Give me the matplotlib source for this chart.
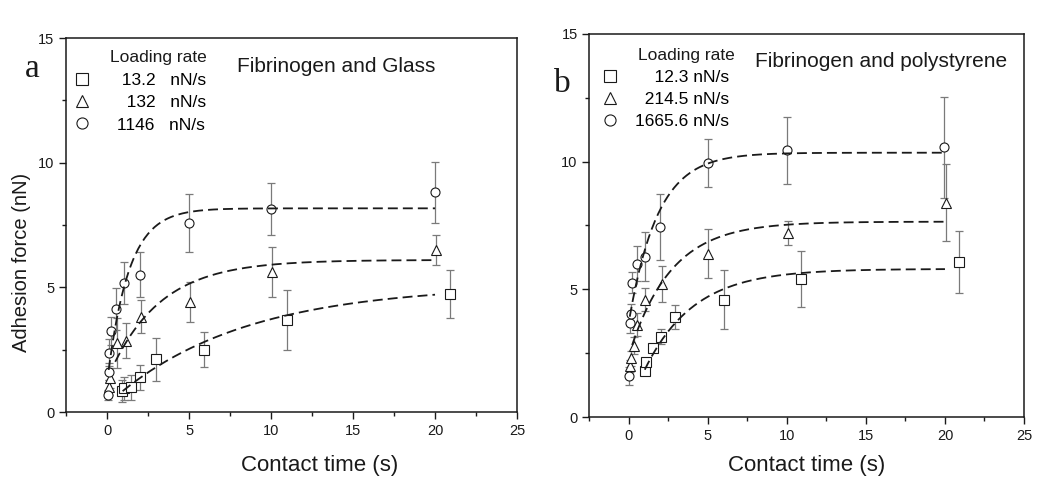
import numpy as np
import matplotlib

matplotlib.use("Agg")
import matplotlib.pyplot as plt
from matplotlib.lines import Line2D

plt.rcParams["font.family"] = ["Liberation Sans", "DejaVu Sans"]

INK = "#1a1a1a"
BAR = "#7a7a7a"

# ---- panel a: fibrinogen and glass ----
a_sq_t = [0.94, 1.04, 1.49, 2.0, 2.98, 5.9, 10.95, 20.9]
a_sq_f = [0.84, 0.95, 0.99, 1.39, 2.11, 2.49, 3.70, 4.74]
a_sq_e = [0.45, 0.45, 0.50, 0.50, 0.85, 0.70, 1.20, 0.95]

a_tr_t = [0.12, 0.18, 0.61, 1.14, 2.1, 5.06, 10.05, 20.04]
a_tr_f = [0.99, 1.35, 2.78, 2.86, 3.83, 4.43, 5.63, 6.50]
a_tr_e = [0.30, 0.40, 1.00, 0.70, 0.67, 0.80, 1.00, 0.60]

a_ci_t = [0.06, 0.1, 0.12, 0.26, 0.53, 1.04, 2.04, 5.0, 10.0, 20.0]
a_ci_f = [0.68, 1.62, 2.38, 3.25, 4.12, 5.17, 5.50, 7.58, 8.14, 8.82]
a_ci_e = [0.20, 0.35, 0.55, 0.55, 0.85, 0.85, 0.90, 1.15, 1.04, 1.22]

# exponential fits: (y0, amplitude, tau, t_start)
a_fits = [(0.30, 4.8, 8.0, 0.95), (1.30, 4.8, 3.1, 0.5), (1.17, 7.0, 1.3, 0.1)]

# ---- panel b: fibrinogen and polystyrene ----
b_sq_t = [0.99, 1.1, 1.52, 2.0, 2.94, 5.99, 10.9, 20.9]
b_sq_f = [1.81, 2.17, 2.71, 3.15, 3.91, 4.59, 5.40, 6.07]
b_sq_e = [0.15, 0.15, 0.15, 0.28, 0.47, 1.15, 1.10, 1.20]

b_tr_t = [0.05, 0.16, 0.3, 0.53, 1.04, 2.09, 4.98, 10.05, 20.04]
b_tr_f = [2.00, 2.30, 2.80, 3.62, 4.60, 5.20, 6.40, 7.19, 8.40]
b_tr_e = [0.25, 0.30, 0.35, 0.45, 0.45, 0.70, 0.95, 0.47, 1.50]

b_ci_t = [0.0, 0.06, 0.1, 0.17, 0.52, 1.04, 1.98, 4.98, 10.0, 19.97]
b_ci_f = [1.61, 3.69, 4.02, 5.26, 6.01, 6.27, 7.45, 9.95, 10.44, 10.56]
b_ci_e = [0.35, 0.40, 0.40, 0.40, 0.70, 0.96, 1.30, 0.95, 1.30, 1.97]

b_fits = [(0.35, 5.45, 3.1, 1.0), (2.44, 5.21, 2.65, 0.2), (3.75, 6.6, 1.82, 0.05)]

panels = [
    dict(rect=[0.0629, 0.1825, 0.4295, 0.742], letter="a", letter_xy=(0.024, 0.848),
         title="Fibrinogen and Glass", title_xy=(0.379, 0.925),
         series=[(a_sq_t, a_sq_f, a_sq_e, "s"), (a_tr_t, a_tr_f, a_tr_e, "^"),
                 (a_ci_t, a_ci_f, a_ci_e, "o")],
         fits=a_fits,
         labels=["  13.2   nN/s", "   132   nN/s", " 1146   nN/s"],
         head_xy=(0.0976, 0.936), leg_xy=(0.017, 0.906), textpad=1.2,
         xlabel_xy=(0.563, -0.115), ylabel=True),
    dict(rect=[0.5614, 0.1726, 0.4138, 0.760], letter="b", letter_xy=(0.528, 0.818),
         title="Fibrinogen and polystyrene", title_xy=(0.381, 0.927),
         series=[(b_sq_t, b_sq_f, b_sq_e, "s"), (b_tr_t, b_tr_f, b_tr_e, "^"),
                 (b_ci_t, b_ci_f, b_ci_e, "o")],
         fits=b_fits,
         labels=["    12.3 nN/s", "  214.5 nN/s", "1665.6 nN/s"],
         head_xy=(0.112, 0.932), leg_xy=(0.028, 0.906), textpad=0.95,
         xlabel_xy=(0.5, -0.099), ylabel=False),
]

fig = plt.figure(figsize=(10.5, 5.04), dpi=100)

for p in panels:
    ax = fig.add_axes(p["rect"])
    for t, f, e, m in p["series"]:
        ax.errorbar(t, f, yerr=e, fmt="none", ecolor=BAR, elinewidth=0.9,
                    capsize=3, capthick=0.9, zorder=2)
        ax.plot(t, f, ls="none", marker=m, ms=6.5, mfc="white", mec=INK,
                mew=0.8, zorder=3)
    for y0, amp, tau, t0 in p["fits"]:
        tt = np.linspace(t0, 20, 200)
        ax.plot(tt, y0 + amp * (1 - np.exp(-tt / tau)), color=INK, lw=1.3,
                ls=(0, (5.5, 2.8)), zorder=4)

    ax.set_xlim(-2.5, 25)
    ax.set_ylim(0, 15)
    ax.set_xticks([0, 5, 10, 15, 20, 25])
    ax.set_xticks(np.arange(-2.5, 25.1, 2.5), minor=True)
    ax.set_yticks([0, 5, 10, 15])
    ax.set_yticks([2.5, 7.5, 12.5], minor=True)
    ax.tick_params(which="both", direction="out", top=False, right=False,
                   width=1.0, color=INK, labelsize=10.5, labelcolor=INK)
    ax.tick_params(which="major", length=5)
    ax.tick_params(which="minor", length=3)
    for s in ax.spines.values():
        s.set_linewidth(1.1)
        s.set_color(INK)

    ax.set_xlabel("Contact time (s)", fontsize=16, color=INK)
    ax.xaxis.set_label_coords(*p["xlabel_xy"])
    if p["ylabel"]:
        ax.set_ylabel("Adhesion force (nN)", fontsize=14.5, color=INK)
        ax.yaxis.set_label_coords(-0.078, 0.40)

    ax.text(*p["title_xy"], p["title"], transform=ax.transAxes, fontsize=15,
            va="center", ha="left", color=INK)
    ax.text(*p["head_xy"], "Loading rate", transform=ax.transAxes, fontsize=12.5,
            va="baseline", ha="left", color=INK)
    handles = [Line2D([], [], ls="none", marker=m, ms=8, mfc="white", mec=INK, mew=0.8)
               for _, _, _, m in p["series"]]
    ax.legend(handles, p["labels"], loc="upper left", bbox_to_anchor=p["leg_xy"],
              frameon=False, fontsize=12.5, borderpad=0, borderaxespad=0,
              handlelength=1.0, handletextpad=p["textpad"], labelspacing=0.4)
    fig.text(*p["letter_xy"], p["letter"], family="Liberation Serif", fontsize=24,
             color=INK, ha="left", va="baseline")

fig.savefig("out.png", dpi=100, facecolor="white")
